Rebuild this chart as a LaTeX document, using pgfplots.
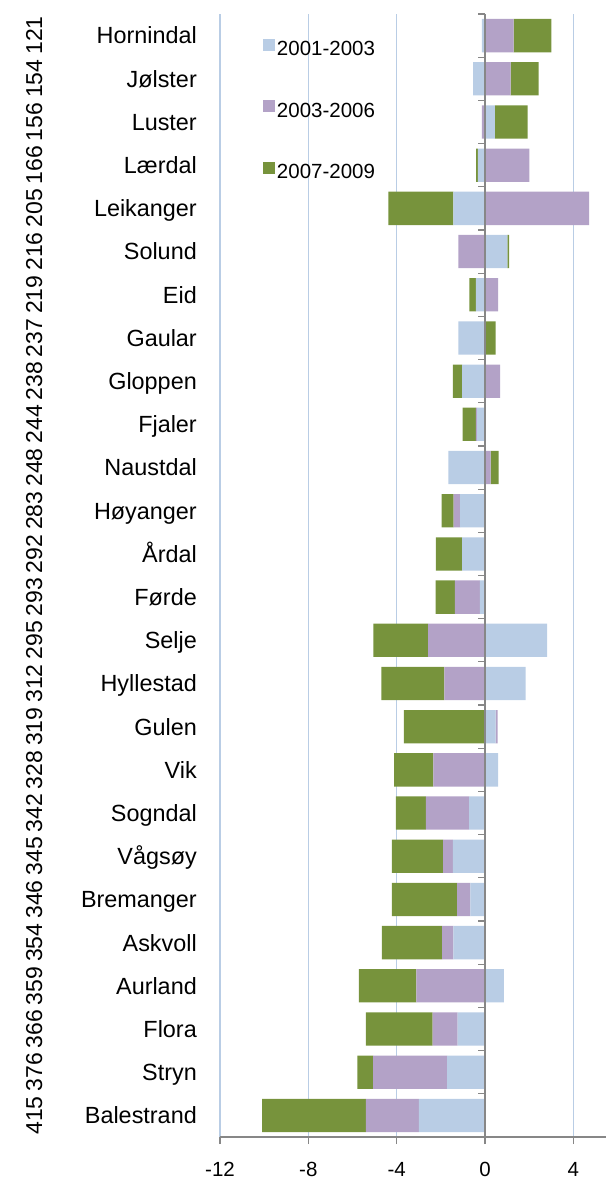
\documentclass[border=0pt]{standalone}
\usepackage{fontspec}
\setmainfont{Liberation Sans}
\usepackage{pgfplots}
\pgfplotsset{compat=1.18}
\usepackage{pgfplotstable}
\definecolor{sBlue}{HTML}{B9CDE5}
\definecolor{sPurple}{HTML}{B3A2C7}
\definecolor{sGreen}{HTML}{77933C}
\definecolor{gridc}{HTML}{B9CDE5}
\definecolor{axc}{HTML}{878787}
\definecolor{sepc}{HTML}{8C8C8C}

% y: row index from top; bp/pp/gp positive parts, bn/pn/gn negative parts
\pgfplotstableread{
y bp pp gp bn pn gn
0 0 1.30 1.71 -0.14 0 0
1 0 1.16 1.27 -0.54 0 0
2 0.45 0 1.48 0 -0.14 0
3 0 2.01 0 -0.32 0 -0.08
4 0 4.72 0 -1.43 0 -2.94
5 1.01 0 0.08 0 -1.21 0
6 0 0.60 0 -0.41 0 -0.30
7 0 0 0.48 -1.21 0 0
8 0 0.68 0 -1.04 0 -0.42
9 0 0 0 -0.36 -0.05 -0.60
10 0 0.26 0.36 -1.66 0 0
11 0 0 0 -1.13 -0.29 -0.54
12 0 0 0 -1.04 0 -1.18
13 0 0 0 -0.23 -1.13 -0.88
14 2.81 0 0 0 -2.57 -2.49
15 1.84 0 0 0 -1.84 -2.85
16 0.48 0.09 0 0 0 -3.67
17 0.59 0 0 0 -2.34 -1.77
18 0 0 0 -0.72 -1.96 -1.36
19 0 0 0 -1.46 -0.44 -2.32
20 0 0 0 -0.66 -0.60 -2.96
21 0 0 0 -1.43 -0.51 -2.73
22 0.86 0 0 0 -3.11 -2.60
23 0 0 0 -1.24 -1.13 -3.02
24 0 0 0 -1.72 -3.35 -0.71
25 0 0 0 -2.99 -2.40 -4.70
}\data

\tikzset{
  namestyle/.style={anchor=east, inner sep=0pt, font=\fontsize{23.4}{28}\selectfont, text height=16.8pt, text depth=0pt},
  numstyle/.style={rotate=90, anchor=center, inner sep=0pt, font=\fontsize{23}{28}\selectfont, text height=16.5pt, text depth=0pt},
}
\pgfplotsset{
  base/.style={
    scale only axis, width=386pt, height=1123pt,
    xmin=-12, xmax=5.48, ymin=-0.5, ymax=25.5, y dir=reverse,
    xbar stacked, bar width=33.3pt, clip=false, ytick=\empty,
  },
}

\begin{document}
\begin{tikzpicture}
\begin{axis}[base,
  axis line style={draw=none},
  xtick={-12,-8,-4,0,4}, xticklabels={-12,-8,-4,0,4},
  xtick pos=bottom, tick align=outside, major tick length=7pt,
  x tick style={axc, line width=1.2pt},
  xticklabel style={font=\fontsize{20.5}{24}\selectfont, yshift=-15pt},
  xmajorgrids, major grid style={gridc, line width=1.5pt},
  legend style={at={(0.103,0.98)}, anchor=north west, draw=none, fill=none,
    font=\fontsize{20.5}{24}\selectfont, row sep=41.2pt, legend cell align=left,
    /tikz/every even column/.append style={column sep=7pt}},
  legend image code/.code={\fill[#1] (0pt,-1.5pt) rectangle (12pt,10.5pt);},
]
\addplot[fill=sBlue, draw=none] table[x=bp, y=y]{\data};
\addplot[fill=sPurple, draw=none] table[x=pp, y=y]{\data};
\addplot[fill=sGreen, draw=none] table[x=gp, y=y]{\data};
\legend{2001-2003,2003-2006,2007-2009}
\end{axis}

% negative parts; the row separators of the label area drawn as long outside minor ticks
\begin{axis}[base,
  axis line style={draw=none}, xtick=\empty,
  minor ytick={-0.5,0.5,...,25.5}, ytick pos=left,
  tick align=outside, minor tick length=208pt,
  minor y tick style={sepc, line width=1.3pt},
]
\addplot[fill=sBlue, draw=none] table[x=bn, y=y]{\data};
\addplot[fill=sPurple, draw=none] table[x=pn, y=y]{\data};
\addplot[fill=sGreen, draw=none] table[x=gn, y=y]{\data};
\end{axis}

% category axis at zero and boundary ticks
\fill[axc] (264.2pt,0pt) rectangle (265.8pt,1123pt);
\foreach \k in {0,...,26}{
  \fill[axc] (258pt,{1123.6pt-\k*43.1923pt}) rectangle (265pt,{1122.4pt-\k*43.1923pt});
}
\fill[axc] (0pt,-0.65pt) rectangle (386pt,0.65pt);
\foreach \k/\n/\c in {0/Hornindal/121,1/Jølster/154,2/Luster/156,3/Lærdal/166,4/Leikanger/205,5/Solund/216,6/Eid/219,7/Gaular/237,8/Gloppen/238,9/Fjaler/244,10/Naustdal/248,11/Høyanger/283,12/Årdal/292,13/Førde/293,14/Selje/295,15/Hyllestad/312,16/Gulen/319,17/Vik/328,18/Sogndal/342,19/Vågsøy/345,20/Bremanger/346,21/Askvoll/354,22/Aurland/359,23/Flora/366,24/Stryn/376,25/Balestrand/415}{
  \node[namestyle] at (-23pt,{1123pt-(\k+0.5)*43.1923pt}) {\n};
  \node[numstyle] at (-186pt,{1123pt-(\k+0.5)*43.1923pt}) {\c};
}
\pgfresetboundingbox
\path[use as bounding box] (-220pt,-43pt) rectangle (386pt,1137pt);
\end{tikzpicture}
\end{document}
